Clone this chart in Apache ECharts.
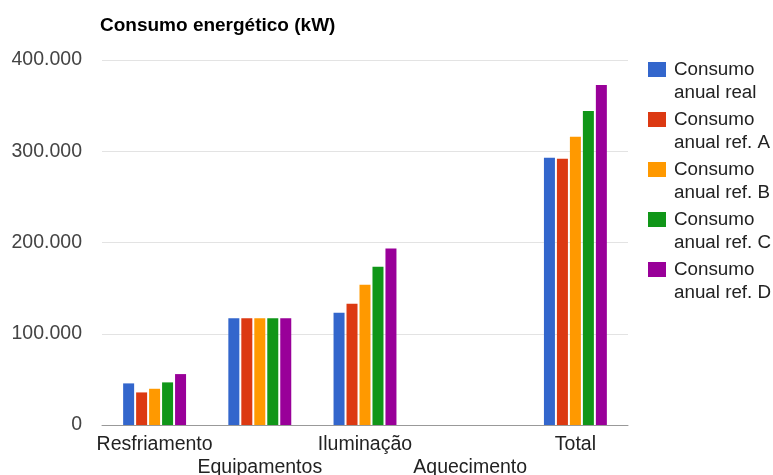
<!DOCTYPE html>
<html>
<head>
  <meta charset="utf-8">
  <title>Consumo energético</title>
  <script src="https://cdn.jsdelivr.net/npm/echarts@6/dist/echarts.min.js"></script>
  <style>
    html, body { margin: 0; padding: 0; background: #fff; }
    #chart { width: 773px; height: 475px; }
  </style>
</head>
<body>
  <div id="chart"></div>
<script>
  // data
  const categories = ['Resfriamento', 'Equipamentos', 'Iluminação', 'Aquecimento', 'Total'];
  const seriesNames = ['Consumo anual real', 'Consumo anual ref. A', 'Consumo anual ref. B', 'Consumo anual ref. C', 'Consumo anual ref. D'];
  const consumoReal = [45600, 117000, 123000, 0, 293000];
  const consumoRefA = [35700, 117000, 133000, 0, 291700];
  const consumoRefB = [39700, 117000, 153600, 0, 316000];
  const consumoRefC = [46700, 117000, 173400, 0, 344000];
  const consumoRefD = [55800, 117000, 193500, 0, 372700];
  const yTicks = [0, 100000, 200000, 300000, 400000];

  const colors = ['#3366cc', '#dc3912', '#ff9900', '#109618', '#990099'];
  const allValues = [consumoReal, consumoRefA, consumoRefB, consumoRefC, consumoRefD];

  function fmt(v) {
    return String(v).replace(/\B(?=(\d{3})+(?!\d))/g, '.');
  }

  const chart = echarts.init(document.getElementById('chart'));

  const series = seriesNames.map(function (name, i) {
    return {
      name: name,
      type: 'bar',
      data: allValues[i],
      barWidth: 11,
      barGap: '18%',
      itemStyle: { color: colors[i] }
    };
  });

  chart.setOption({
    animation: false,
    textStyle: { fontFamily: 'Liberation Sans, Arial, sans-serif' },
    title: {
      text: 'Consumo energético (kW)',
      left: 100,
      top: 16,
      padding: 0,
      textStyle: { fontSize: 19, fontWeight: 'bold', color: '#000' }
    },
    legend: {
      orient: 'vertical',
      left: 648,
      top: 35,
      padding: 0,
      itemWidth: 21,
      itemHeight: 15,
      itemGap: -19,
      // 18x15 swatch plus a blank strip, so the text sits a little further right
      icon: 'path://M0,0H18V15H0ZM21,15',
      data: seriesNames,
      // blank first line keeps the swatch level with "Consumo"
      formatter: function (name) {
        return ' \n' + name.replace('Consumo ', 'Consumo\n');
      },
      textStyle: { fontSize: 18.8, color: '#222', lineHeight: 23 }
    },
    grid: { left: 102, right: 145, top: 60, bottom: 50, outerBoundsMode: 'none' },
    xAxis: {
      type: 'category',
      data: categories,
      axisTick: { show: false },
      axisLine: { lineStyle: { color: '#999', width: 1 } },
      axisLabel: {
        interval: 0,
        fontSize: 19.5,
        color: '#222',
        lineHeight: 23,
        margin: 8,
        formatter: function (v, i) { return i % 2 ? '\n' + v : v; }
      }
    },
    yAxis: {
      type: 'value',
      min: yTicks[0],
      max: yTicks[yTicks.length - 1],
      interval: 100000,
      axisLine: { show: false },
      axisTick: { show: false },
      splitLine: { lineStyle: { color: '#e3e3e3' } },
      axisLabel: {
        fontSize: 19.5,
        color: '#444',
        margin: 20,
        formatter: fmt
      }
    },
    series: series
  });
</script>
</body>
</html>
